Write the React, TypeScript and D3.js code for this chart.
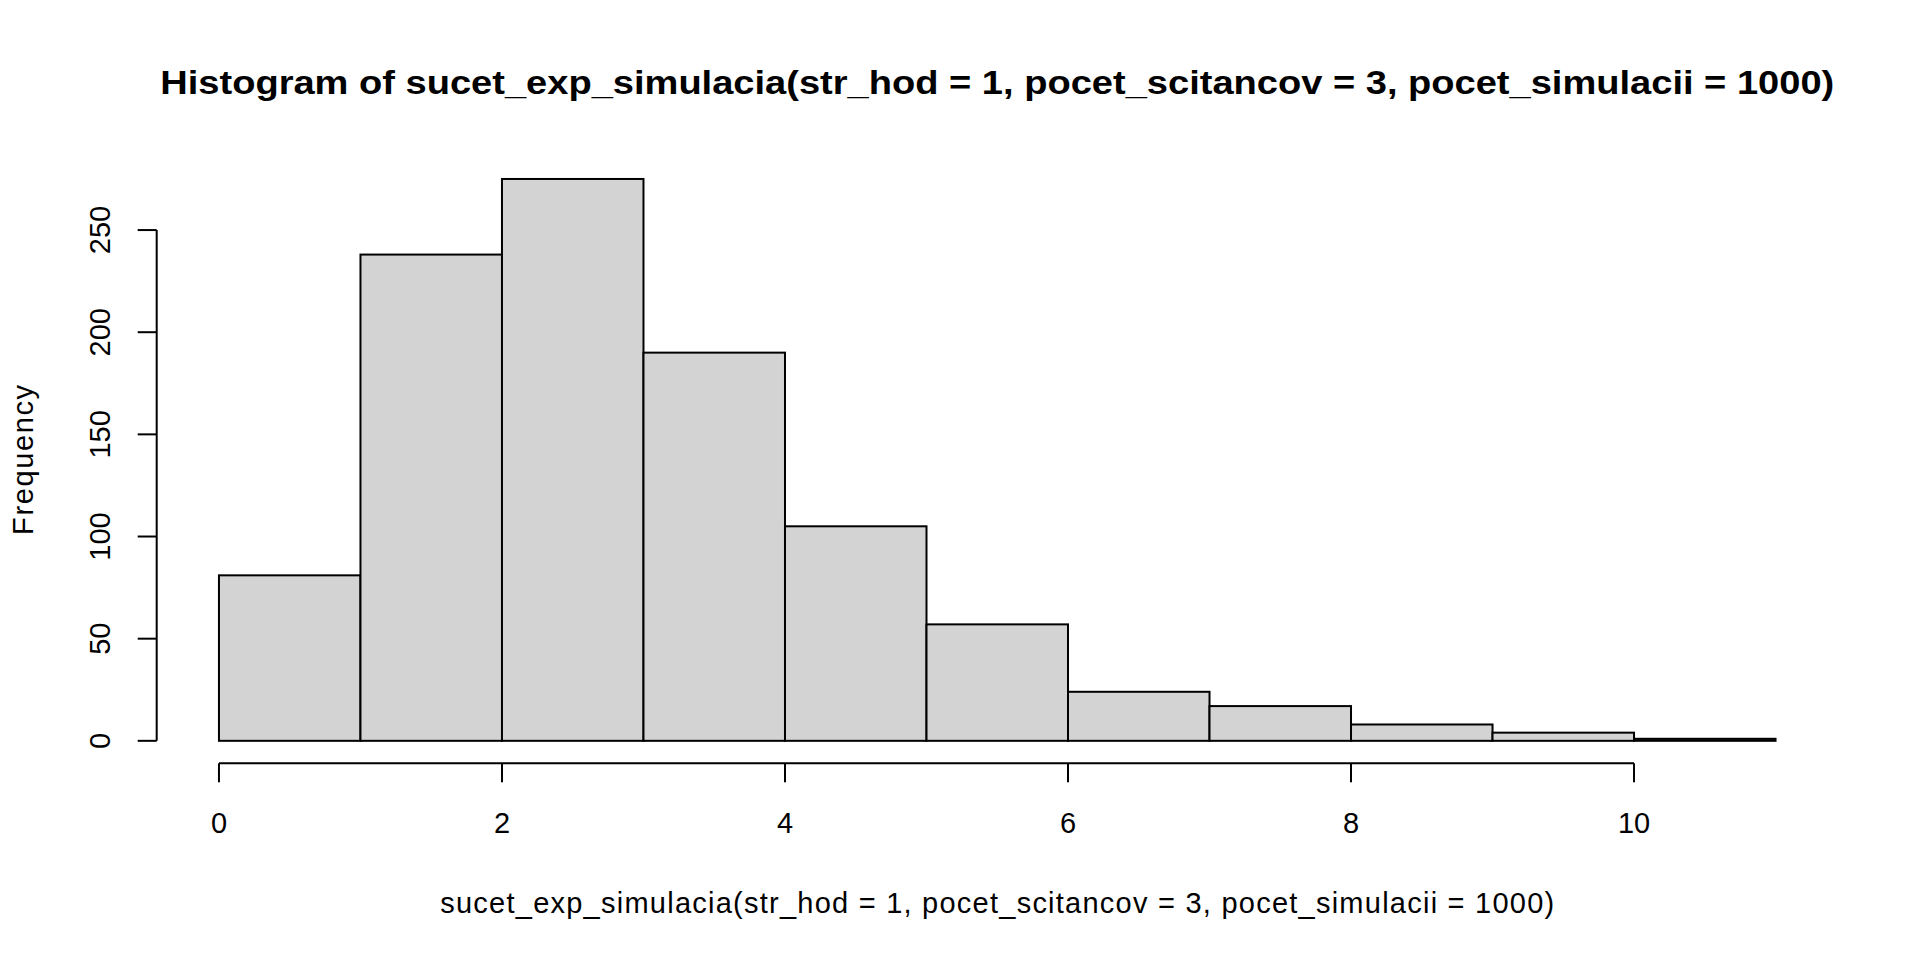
import React from "react";
import * as d3 from "d3";

const breaks = [0, 1, 2, 3, 4, 5, 6, 7, 8, 9, 10, 11];
const counts = [81, 238, 275, 190, 105, 57, 24, 17, 8, 4, 1];
const xTicks = [0, 2, 4, 6, 8, 10];
const yTicks = [0, 50, 100, 150, 200, 250];
const title = "Histogram of sucet_exp_simulacia(str_hod = 1, pocet_scitancov = 3, pocet_simulacii = 1000)";
const xLabel = "sucet_exp_simulacia(str_hod = 1, pocet_scitancov = 3, pocet_simulacii = 1000)";
const yLabel = "Frequency";

export default function App() {
  const W = 1920, H = 960;
  const left = 156.7, right = 1837.8, top = 156.5, bottom = 763.3;
  const xMin = breaks[0], xMax = breaks[breaks.length - 1];
  const xPad = (xMax - xMin) * 0.04;
  const yMax = d3.max(counts) as number;
  const yPad = yMax * 0.04;
  const x = d3.scaleLinear().domain([xMin - xPad, xMax + xPad]).range([left, right]);
  const y = d3.scaleLinear().domain([-yPad, yMax + yPad]).range([bottom, top]);
  const font = "'Liberation Sans', Arial, sans-serif";
  const tick = 19;
  const cx = (left + right) / 2;
  const cy = (top + bottom) / 2;
  const fs = 29;
  return (
    <svg width={W} height={H} style={{ position: "absolute", left: 0, top: 0, background: "#fff" }} fontFamily={font}>
      <rect x={0} y={0} width={W} height={H} fill="#fff" />
      {counts.map((c, i) => (
        <rect
          key={i}
          x={x(breaks[i])}
          y={y(c)}
          width={x(breaks[i + 1]) - x(breaks[i])}
          height={y(0) - y(c)}
          fill="#D3D3D3"
          stroke="#000"
          strokeWidth={2}
        />
      ))}
      {/* x axis */}
      <line x1={x(xTicks[0])} x2={x(xTicks[xTicks.length - 1])} y1={bottom} y2={bottom} stroke="#000" strokeWidth={2} />
      {xTicks.map((t) => (
        <g key={t}>
          <line x1={x(t)} x2={x(t)} y1={bottom} y2={bottom + tick} stroke="#000" strokeWidth={2} />
          <text x={x(t)} y={833} textAnchor="middle" fontSize={fs}>{t}</text>
        </g>
      ))}
      {/* y axis */}
      <line x1={left} x2={left} y1={y(yTicks[0])} y2={y(yTicks[yTicks.length - 1])} stroke="#000" strokeWidth={2} />
      {yTicks.map((t) => (
        <g key={t}>
          <line x1={left - tick} x2={left} y1={y(t)} y2={y(t)} stroke="#000" strokeWidth={2} />
          <text transform={`translate(110,${y(t)}) rotate(-90)`} textAnchor="middle" fontSize={fs}>{t}</text>
        </g>
      ))}
      <text x={cx} y={94} textAnchor="middle" fontSize={34} fontWeight="bold" textLength={1674} lengthAdjust="spacingAndGlyphs">{title}</text>
      <text x={cx} y={913} textAnchor="middle" fontSize={fs} textLength={1114} lengthAdjust="spacing">{xLabel}</text>
      <text transform={`translate(33,${cy}) rotate(-90)`} textAnchor="middle" fontSize={fs} textLength={150} lengthAdjust="spacing">{yLabel}</text>
    </svg>
  );
}
